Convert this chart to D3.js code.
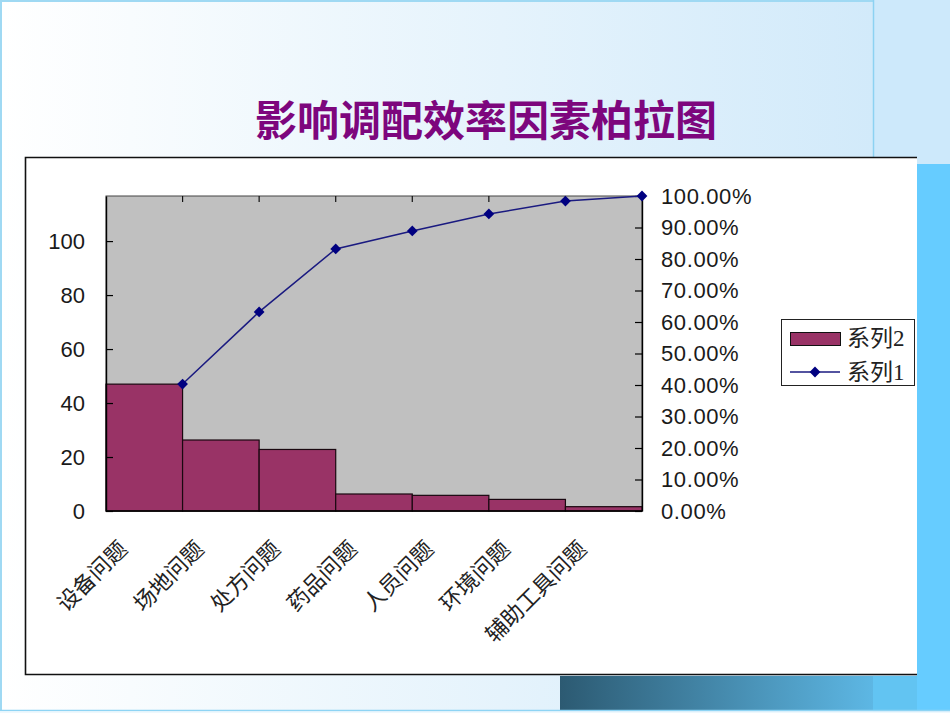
<!DOCTYPE html>
<html><head><meta charset="utf-8">
<script src="https://cdn.jsdelivr.net/npm/d3@7"></script>
<style>html,body{margin:0;padding:0;background:#fff;}svg{display:block;}</style>
</head><body>
<svg id="c" width="950" height="713"></svg>
<script>
const title = "影响调配效率因素柏拉图";
const categories = ["设备问题","场地问题","处方问题","药品问题","人员问题","环境问题","辅助工具问题"];
const series2 = [47.0, 26.3, 22.8, 6.3, 5.8, 4.3, 1.6];          // bars (left axis)
const series1 = [0.403, 0.632, 0.832, 0.889, 0.943, 0.984, 1.0];   // cumulative % (right axis)
const leftTicks = [0, 20, 40, 60, 80, 100];
const rightTicks = [0, 0.1, 0.2, 0.3, 0.4, 0.5, 0.6, 0.7, 0.8, 0.9, 1.0];
const legendNames = ["系列2", "系列1"];

const svg = d3.select("#c");
const defs = svg.append("defs");
const g1 = defs.append("linearGradient").attr("id","bg").attr("x1","0").attr("x2","1").attr("y1","0").attr("y2","0");
g1.append("stop").attr("offset","0").attr("stop-color","#ffffff");
g1.append("stop").attr("offset","0.15").attr("stop-color","#f8fcfe");
g1.append("stop").attr("offset","1").attr("stop-color","#d2eafa");
const g2 = defs.append("linearGradient").attr("id","bar").attr("x1","0").attr("x2","1").attr("y1","0").attr("y2","0");
g2.append("stop").attr("offset","0").attr("stop-color","#2c5a72");
g2.append("stop").attr("offset","1").attr("stop-color","#5db7e4");

// slide background
svg.append("rect").attr("x",0).attr("y",0).attr("width",873).attr("height",713).attr("fill","url(#bg)");
svg.append("rect").attr("x",873).attr("y",0).attr("width",77).attr("height",713).attr("fill","#cde9fb");
svg.append("line").attr("x1",0).attr("x2",873).attr("y1",1).attr("y2",1).attr("stroke","#9fd9f3").attr("stroke-width",2);
svg.append("line").attr("x1",1).attr("x2",1).attr("y1",0).attr("y2",711).attr("stroke","#9fd9f3").attr("stroke-width",2);
svg.append("line").attr("x1",873.5).attr("x2",873.5).attr("y1",0).attr("y2",157).attr("stroke","#8cd2f2").attr("stroke-width",1.5);
svg.append("rect").attr("x",917).attr("y",164).attr("width",33).attr("height",547).attr("fill","#66ccff");
svg.append("rect").attr("x",560).attr("y",676).attr("width",313).attr("height",34).attr("fill","url(#bar)");
svg.append("rect").attr("x",873).attr("y",676).attr("width",44).attr("height",34).attr("fill","#62c4f2");
svg.append("line").attr("x1",0).attr("x2",950).attr("y1",710.5).attr("y2",710.5).attr("stroke","#8ed4f4").attr("stroke-width",1.5);
svg.append("rect").attr("x",0).attr("y",711.5).attr("width",950).attr("height",2).attr("fill","#eef8fd");

// title
svg.append("text").attr("x",486).attr("y",117).attr("text-anchor","middle").attr("dominant-baseline","central")
  .attr("font-family","'Noto Sans CJK SC'").attr("font-weight","bold").attr("font-size",42)
  .attr("fill","#7d067d").text(title);

// chart box
svg.append("rect").attr("x",25).attr("y",157).attr("width",892).attr("height",518).attr("fill","#ffffff");
svg.append("path").attr("d","M917,157.5 H25.5 V674.5 H917").attr("fill","none").attr("stroke","#111").attr("stroke-width",1.6);

// plot area
const L = 106, R = 642, T = 196, B = 511;
const x = d3.scaleBand().domain(categories).range([L, R]).padding(0);
const yL = d3.scaleLinear().domain([0, 116.7]).range([B, T]);
const yR = d3.scaleLinear().domain([0, 1]).range([B, T]);

svg.append("rect").attr("x",L).attr("y",T).attr("width",R-L).attr("height",B-T).attr("fill","#c0c0c0").attr("stroke","#444").attr("stroke-width",1);

// top ticks at category boundaries
svg.append("g").selectAll("line").data(categories.slice(1)).join("line")
  .attr("x1",d=>x(d)).attr("x2",d=>x(d)).attr("y1",T).attr("y2",T+6).attr("stroke","#111").attr("stroke-width",1.2);

// bars
svg.append("g").selectAll("rect").data(series2).join("rect")
  .attr("x",(d,i)=>x(categories[i])).attr("width",x.bandwidth())
  .attr("y",d=>yL(d)).attr("height",d=>B-yL(d))
  .attr("fill","#993366").attr("stroke","#1a0810").attr("stroke-width",1.2);

// axes
const fontAx = "'Liberation Sans', Arial, sans-serif";
const axL = svg.append("g").attr("transform",`translate(${L},0)`)
  .call(d3.axisLeft(yL).tickValues(leftTicks).tickSizeInner(-7).tickSizeOuter(0).tickPadding(21));
const axR = svg.append("g").attr("transform",`translate(${R},0)`)
  .call(d3.axisRight(yR).tickValues(rightTicks).tickSizeInner(-7).tickSizeOuter(0).tickPadding(19).tickFormat(d3.format(".2%")));
[axL, axR].forEach(a => {
  a.select(".domain").attr("stroke","#000").attr("stroke-width",1.4);
  a.selectAll(".tick line").attr("stroke","#000").attr("stroke-width",1.2);
  a.selectAll(".tick text").attr("font-family",fontAx).attr("font-size",22).attr("fill","#1a1a1a");
});
axR.selectAll(".tick text").attr("letter-spacing","0.6px");
svg.append("line").attr("x1",L).attr("x2",R).attr("y1",B).attr("y2",B).attr("stroke","#000").attr("stroke-width",1.4);

// cumulative line
const px = (d,i) => x(categories[i]) + x.bandwidth();
const line = d3.line().x((d,i)=>px(d,i)).y(d=>yR(d));
svg.append("path").datum(series1).attr("d",line).attr("fill","none").attr("stroke","#1a1a80").attr("stroke-width",1.5);
const sym = d3.symbol().type(d3.symbolSquare).size(58);
svg.append("g").selectAll("path").data(series1).join("path")
  .attr("d",sym).attr("transform",(d,i)=>`translate(${px(d,i)},${yR(d)}) rotate(45)`).attr("fill","#000080");

// x labels
svg.append("g").selectAll("text").data(categories).join("text")
  .attr("text-anchor","end").attr("dy","0.35em")
  .attr("transform",d=>`translate(${x(d)+x.bandwidth()/2-21},545) rotate(-45)`)
  .attr("font-family","'Noto Sans CJK SC'").attr("font-size",22).attr("fill","#222").text(d=>d);

// legend
const lg = svg.append("g");
lg.append("rect").attr("x",781.5).attr("y",319.5).attr("width",133).attr("height",66).attr("fill","#fff").attr("stroke","#222").attr("stroke-width",1);
lg.append("rect").attr("x",790.5).attr("y",332.5).attr("width",50).attr("height",13).attr("fill","#993366").attr("stroke","#111").attr("stroke-width",1);
lg.append("line").attr("x1",790).attr("x2",840).attr("y1",372).attr("y2",372).attr("stroke","#1a1a80").attr("stroke-width",1.5);
lg.append("path").attr("d",sym).attr("transform","translate(815,372) rotate(45)").attr("fill","#000080");
lg.selectAll("text").data(legendNames).join("text")
  .attr("x",847).attr("y",(d,i)=> i===0 ? 338 : 372).attr("dominant-baseline","central")
  .attr("font-family","'Liberation Serif', 'Noto Sans CJK SC'").attr("font-size",23).attr("fill","#222").text(d=>d);
</script>
</body></html>
